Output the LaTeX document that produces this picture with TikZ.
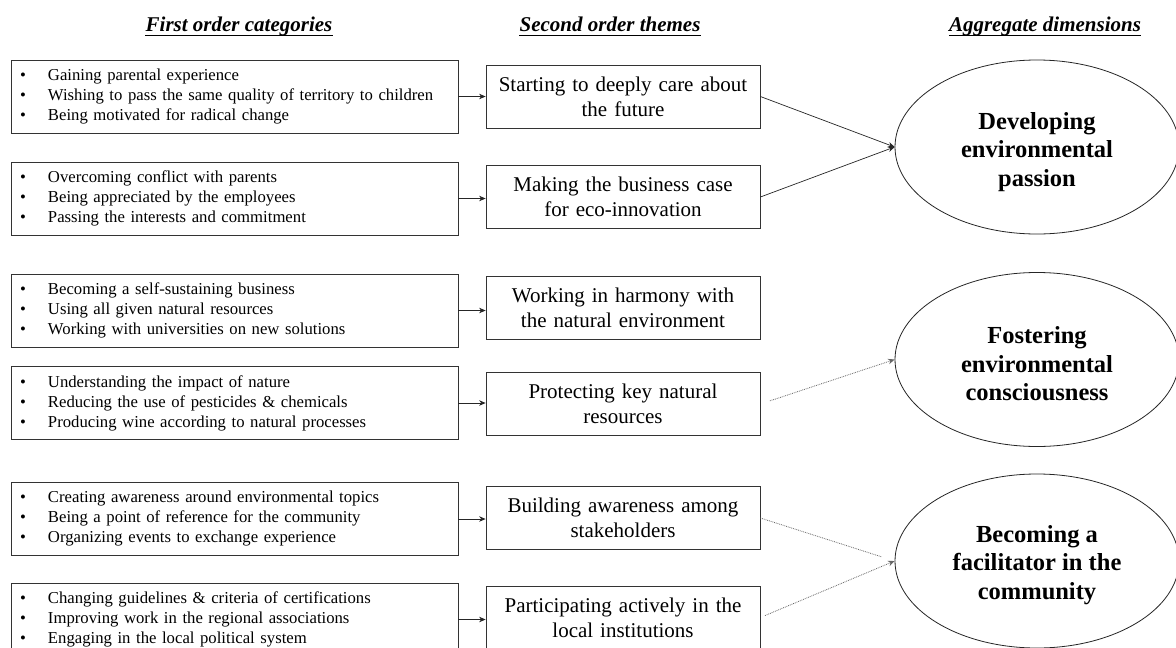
\documentclass[tikz,border=0pt]{standalone}
\usepackage{fontspec}
\setmainfont{Liberation Serif}
\usetikzlibrary{shapes.geometric,arrows.meta}
\newcommand\bul{\makebox[28pt][l]{\textbullet}}
\tikzset{
 lbox/.style={draw=black!80, line width=0.8pt, minimum width=447pt, minimum height=73pt, text width=429pt, inner xsep=9pt, inner ysep=0pt, align=left, font=\fontsize{16.7}{20}\selectfont},
 mbox/.style={draw=black!80, line width=0.8pt, minimum width=274pt, minimum height=63pt, text width=264pt, inner xsep=5pt, inner ysep=0pt, align=center, font=\fontsize{21}{25}\selectfont},
 dim/.style={ellipse, draw=black!85, line width=0.8pt, minimum width=284pt, minimum height=174pt, inner sep=0pt},
 dimtext/.style={inner sep=0pt, align=center, font=\fontsize{24.5}{28.5}\selectfont\bfseries},
 head/.style={inner sep=0pt, anchor=base, font=\fontsize{21}{24}\selectfont\bfseries\itshape},
 arr/.style={draw=black!85, -{Stealth[length=6.5pt,width=5.5pt]}, line width=0.7pt},
 faint/.style={draw=black!60, densely dotted, line width=0.8pt},
}
\begin{document}
\begin{tikzpicture}[x=1pt,y=-1pt]
\fill[white] (0,0) rectangle (1176,648);
\useasboundingbox (0,0) rectangle (1176,648);

% headers
\node[head] (h1) at (239,31) {First order categories};
\node[head] (h2) at (610,31) {Second order themes};
\node[head] (h3) at (1045,31) {Aggregate dimensions};
\foreach \h in {h1,h2,h3}{
  \draw[line width=1.6pt] ([yshift=-4.5pt]\h.base west) -- ([yshift=-4.5pt]\h.base east);
}

% first order categories
\node[lbox] (l1) at (234.5,96.5) {\bul Gaining parental experience\\ \bul Wishing to pass the same quality of territory to children\\ \bul Being motivated for radical change};
\node[lbox] (l2) at (234.5,198.5) {\bul Overcoming conflict with parents\\ \bul Being appreciated by the employees\\ \bul Passing the interests and commitment};
\node[lbox] (l3) at (234.5,310.5) {\bul Becoming a self-sustaining business\\ \bul Using all given natural resources\\ \bul Working with universities on new solutions};
\node[lbox] (l4) at (234.5,403) {\bul Understanding the impact of nature\\ \bul Reducing the use of pesticides \& chemicals\\ \bul Producing wine according to natural processes};
\node[lbox] (l5) at (234.5,519) {\bul Creating awareness around environmental topics\\ \bul Being a point of reference for the community\\ \bul Organizing events to exchange experience};
\node[lbox] (l6) at (234.5,619.5) {\bul Changing guidelines \& criteria of certifications\\ \bul Improving work in the regional associations\\ \bul Engaging in the local political system};

% second order themes
\node[mbox] (m1) at (623,96.5) {Starting to deeply care about\\ the future};
\node[mbox] (m2) at (623,197) {Making the business case\\ for eco-innovation};
\node[mbox] (m3) at (623,307.5) {Working in harmony with\\ the natural environment};
\node[mbox] (m4) at (623,404) {Protecting key natural\\ resources};
\node[mbox] (m5) at (623,518) {Building awareness among\\ stakeholders};
\node[mbox] (m6) at (623,617.5) {Participating actively in the\\ local institutions};

% aggregate dimensions
\node[dim] (e1) at (1037,147) {};
\node[dim] (e2) at (1037,359.5) {};
\node[dim] (e3) at (1037,561) {};
\node[dimtext] (t1) at (1037,152) {Developing\\ environmental\\ passion};
\node[dimtext] (t2) at (1037,364) {Fostering\\ environmental\\ consciousness};
\node[dimtext] (t3) at (1037,565) {Becoming a\\ facilitator in the\\ community};

% arrows first -> second
\foreach \i in {1,...,6}{
  \draw[arr] (l\i.east) -- (l\i.east -| m\i.west);
}

% arrows second -> aggregate
\draw[arr] (m1.east) -- (e1.west);
\draw[arr] (m2.east) -- (e1.west);
\draw[faint, shorten <=10pt, -{Stealth[length=6.5pt,width=5.5pt]}] (m4.east) -- (e2.west);
\draw[faint, shorten >=14pt] (m5.east) -- (e3.west);
\draw[faint, shorten <=5pt, -{Stealth[length=6.5pt,width=5.5pt]}] (m6.east) -- (e3.west);
\end{tikzpicture}
\end{document}
